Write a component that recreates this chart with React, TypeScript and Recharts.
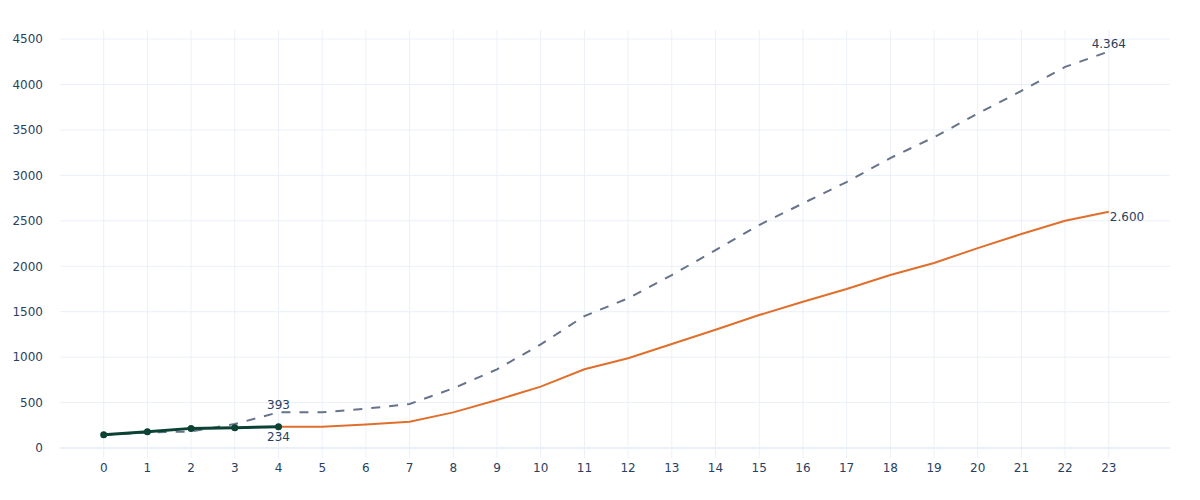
import React from 'react';
import { LineChart, Line, XAxis, YAxis, CartesianGrid, ReferenceLine, LabelList } from 'recharts';

const steps = [0, 1, 2, 3, 4, 5, 6, 7, 8, 9, 10, 11, 12, 13, 14, 15, 16, 17, 18, 19, 20, 21, 22, 23];
const projectedValues = [143, 170, 182, 264, 393, 393, 433, 484, 657, 866, 1140, 1452, 1647, 1903, 2178, 2454, 2692, 2927, 3191, 3420, 3680, 3930, 4194, 4364];
const trendValues: (number | null)[] = [null, null, null, null, 234, 234, 260, 290, 392, 528, 675, 866, 987, 1144, 1302, 1463, 1610, 1750, 1904, 2036, 2200, 2355, 2500, 2600];
const actualValues: (number | null)[] = [147, 180, 216, 224, 234, null, null, null, null, null, null, null, null, null, null, null, null, null, null, null, null, null, null, null];
const yTicks = [0, 500, 1000, 1500, 2000, 2500, 3000, 3500, 4000, 4500];
const projectedLabelIdx = [4, 23];
const trendLabelIdx = [4, 23];

const data = steps.map((s, i) => ({
  step: s,
  projected: projectedValues[i],
  trend: trendValues[i],
  actual: actualValues[i],
}));

const fmt = (v: number) => {
  const s = Math.round(v).toString();
  return s.replace(/\B(?=(\d{3})+(?!\d))/g, '.');
};

const FONT = '"DejaVu Sans", Verdana, sans-serif';
const TEXT = '#2a3f5f';

const projectedLabel = (props: any) => {
  const { x, y, value, index } = props;
  if (!projectedLabelIdx.includes(index) || value == null) return null;
  return (
    <text x={x} y={y - 3} textAnchor="middle" fontFamily={FONT} fontSize={12} fill={TEXT}>
      {fmt(value)}
    </text>
  );
};

const trendLabel = (props: any) => {
  const { x, y, value, index } = props;
  if (!trendLabelIdx.includes(index) || value == null) return null;
  if (index === steps.length - 1) {
    return (
      <text x={x + 1} y={y + 9} textAnchor="start" fontFamily={FONT} fontSize={12} fill={TEXT}>
        {fmt(value)}
      </text>
    );
  }
  return (
    <text x={x} y={y + 14} textAnchor="middle" fontFamily={FONT} fontSize={12} fill={TEXT}>
      {fmt(value)}
    </text>
  );
};

export default function App() {
  return (
    <div style={{ position: 'absolute', left: 0, top: 0, width: 1200, height: 500, background: '#fff' }}>
      <LineChart width={1200} height={500} data={data} margin={{ top: 30, right: 30, bottom: 0, left: 0 }}>
        <CartesianGrid stroke="#EBF0F8" strokeWidth={1} horizontalValues={yTicks} verticalValues={steps} />
        <XAxis
          dataKey="step"
          type="number"
          domain={[-1, 24.4]}
          ticks={steps}
          interval={0}
          axisLine={false}
          tickLine={false}
          tickSize={0}
          tickMargin={5}
          height={42}
          tick={{ fontFamily: FONT, fontSize: 12, fill: TEXT }}
        />
        <YAxis
          type="number"
          domain={[-110, 4600]}
          ticks={yTicks}
          interval={0}
          axisLine={false}
          tickLine={false}
          tickSize={0}
          tickMargin={17}
          width={60}
          allowDataOverflow
          tick={{ fontFamily: FONT, fontSize: 12, fill: TEXT }}
        />
        <ReferenceLine y={0} stroke="#EBF0F8" strokeWidth={2} />
        <Line
          dataKey="projected"
          stroke="#66738a"
          strokeWidth={2}
          strokeDasharray="9 9"
          dot={false}
          activeDot={false}
          isAnimationActive={false}
        >
          <LabelList dataKey="projected" content={projectedLabel} />
        </Line>
        <Line
          dataKey="trend"
          stroke="#e06f2c"
          strokeWidth={2}
          dot={false}
          activeDot={false}
          isAnimationActive={false}
        >
          <LabelList dataKey="trend" content={trendLabel} />
        </Line>
        <Line
          dataKey="actual"
          stroke="#0b4233"
          strokeWidth={3}
          dot={{ r: 3.5, fill: '#0b4233', stroke: '#0b4233', strokeWidth: 0 }}
          activeDot={false}
          isAnimationActive={false}
        />
      </LineChart>
    </div>
  );
}
